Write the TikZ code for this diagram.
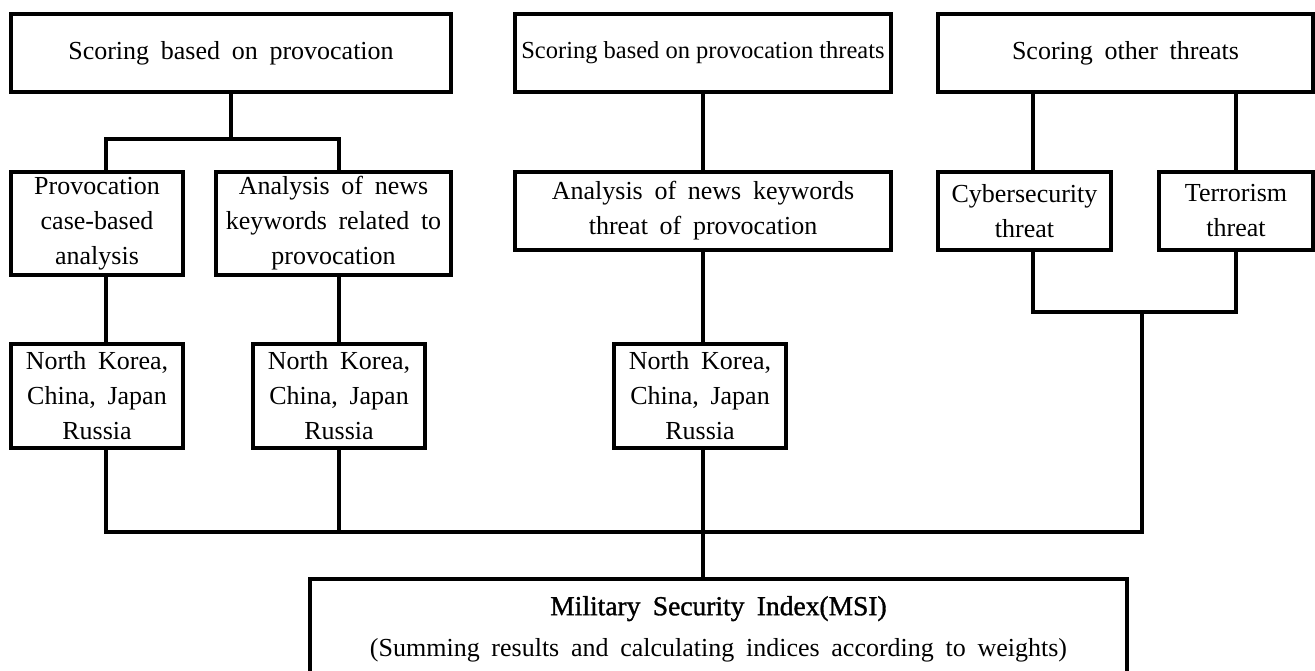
\documentclass[tikz,border=0pt]{standalone}
\usepackage{fontspec}
\setmainfont{Liberation Serif}[WordSpace=1.8]
\newfontfamily\tightfont{Liberation Serif}
\newfontfamily\titlefont{Liberation Serif}[FakeBold=1.2,WordSpace=1.8]
\usepackage{tikz}
\usetikzlibrary{positioning}

\tikzset{
  box/.style={draw, line width=3.8pt, align=center, inner sep=2pt, outer sep=0pt,
    anchor=north west, font=\fontsize{26}{35}\selectfont},
  link/.style={line width=3.3pt}
}

\begin{document}
\begin{tikzpicture}[x=1pt, y=-1pt]
  \useasboundingbox (0,0) rectangle (1315,671);

  \node [box, minimum width=440, minimum height=78] (A) at (11,14) {Scoring based on provocation};
  \node [box, minimum width=376, minimum height=78, font=\tightfont\fontsize{24.5}{30}\selectfont] (B) at (515,14) {Scoring based on provocation threats};
  \node [box, minimum width=375, minimum height=78] (C) at (938,14) {Scoring other threats};

  \node [box, minimum width=172, minimum height=103] (D) at (11,172) {Provocation\\case-based\\analysis};
  \node [box, minimum width=235, minimum height=103] (E) at (216,172) {Analysis of news\\keywords related to\\provocation};
  \node [box, minimum width=376, minimum height=78] (F) at (515,172) {Analysis of news keywords\\threat of provocation};
  \node [box, minimum width=173, minimum height=78] (G) at (938,172) {Cybersecurity\\threat};
  \node [box, minimum width=154, minimum height=78] (H) at (1159,172) {Terrorism\\threat};

  \node [box, minimum width=172, minimum height=104] (I) at (11,344) {North Korea,\\China, Japan\\Russia};
  \node [box, minimum width=172, minimum height=104] (J) at (253,344) {North Korea,\\China, Japan\\Russia};
  \node [box, minimum width=172, minimum height=104] (K) at (614,344) {North Korea,\\China, Japan\\Russia};

  \node [box, minimum width=817, minimum height=100, font=\fontsize{26}{41}\selectfont] (L) at (310,579)
    {{\titlefont\fontsize{27.5}{41}\selectfont Military Security Index(MSI)}\\(Summing results and calculating indices according to weights)};

  \coordinate (gh) at (1142,312);
  \coordinate (bus) at (703,532);

  \draw [link] (A.south) -- ++(0,47) coordinate (a1);
  \draw [link] ([xshift=9]D.north) |- (a1) -| (E.north -| J.north);
  \draw [link] (B.south) -- (F.north);
  \draw [link] ([xshift=8.5]G.north) -- ([xshift=8.5]G.north |- C.south);
  \draw [link] (H.north) -- (H.north |- C.south);

  \draw [link] ([xshift=9]D.south) -- ([xshift=9]I.north);
  \draw [link] (J.north) -- (J.north |- E.south);
  \draw [link] (F.south) -- (F.south |- K.north);
  \draw [link] ([xshift=8.5]G.south) |- (gh) -| (H.south);

  \draw [link] ([xshift=9]I.south) |- (bus) -| (gh);
  \draw [link] (J.south) -- (J.south |- bus);
  \draw [link] (K.south -| bus) -- (L.north -| bus);
\end{tikzpicture}
\end{document}
